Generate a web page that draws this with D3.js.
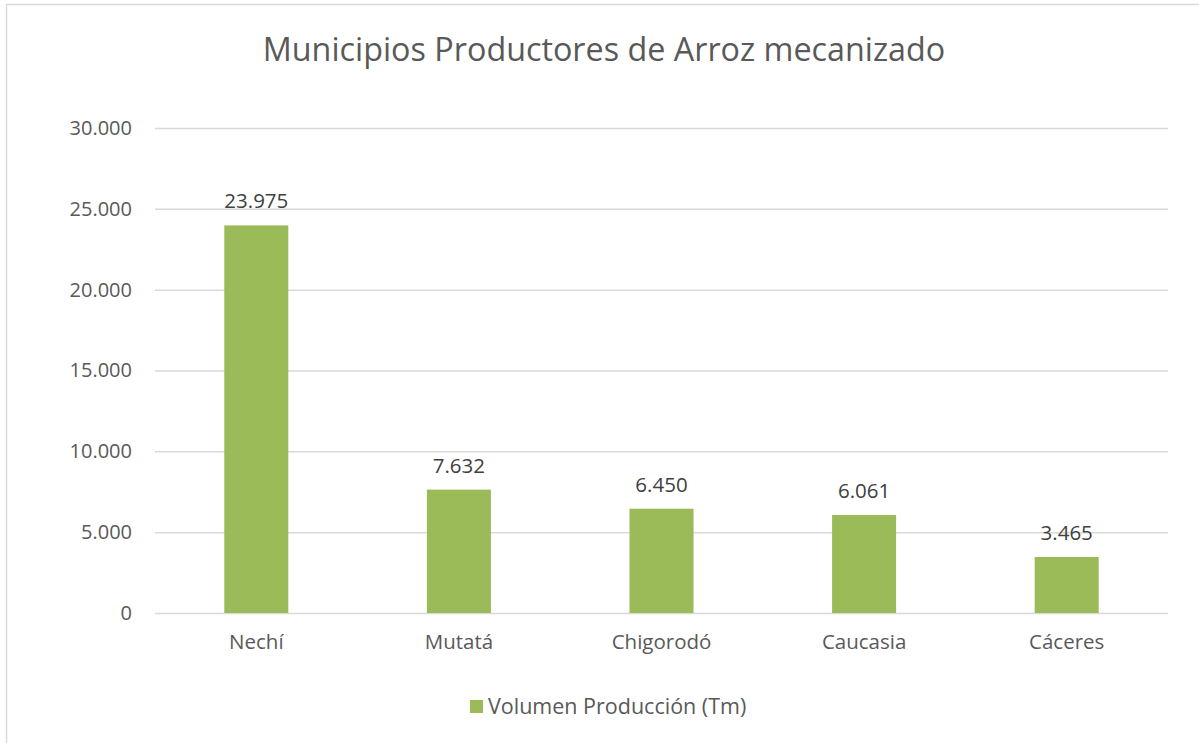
<!DOCTYPE html>
<html><head><meta charset="utf-8">
<script src="https://cdn.jsdelivr.net/npm/d3@7"></script>
<style>body{margin:0;background:#fff}svg{display:block}</style>
</head><body>
<script>
const categories = ["Nechí","Mutatá","Chigorodó","Caucasia","Cáceres"];
const values = [23975,7632,6450,6061,3465];
const yTicks = [0,5000,10000,15000,20000,25000,30000];
const title = "Municipios Productores de Arroz mecanizado";
const seriesName = "Volumen Producción (Tm)";

const W=1199,H=743;
const font='"Open Sans", "Noto Sans", sans-serif';
const txt='#595959';
const barColor='#9BBB59';
const svg=d3.select("body").append("svg").attr("width",W).attr("height",H);
svg.append("rect").attr("x",0).attr("y",0).attr("width",W).attr("height",H).attr("fill","#fff");
svg.append("path").attr("d",`M6.5,${H}V4.5H${W}`).attr("fill","none").attr("stroke","#d9d9d9").attr("stroke-width",1.5);

const m={l:155,r:1168,t:128,b:613};
const x=d3.scaleBand().domain(categories).range([m.l,m.r]).paddingInner(0.684).paddingOuter(0.342);
const y=d3.scaleLinear().domain([0,30000]).range([m.b,m.t]);
const fmt=v=>d3.format(",")(v).replace(/,/g,".");

svg.append("text").attr("x",604).attr("y",61).attr("text-anchor","middle")
 .attr("font-family",font).attr("font-size",32.3).attr("fill",txt).text(title);

const ya=svg.append("g").attr("transform",`translate(${m.l},0)`)
 .call(d3.axisLeft(y).tickValues(yTicks).tickSize(-(m.r-m.l)).tickPadding(23).tickFormat(fmt));
ya.select(".domain").remove();
ya.selectAll(".tick line").attr("stroke","#d9d9d9").attr("stroke-width",1.5);
ya.selectAll(".tick text").attr("font-family",font).attr("font-size",20).attr("fill",txt);

svg.selectAll("rect.bar").data(values).enter().append("rect").attr("class","bar")
 .attr("x",(d,i)=>x(categories[i])).attr("width",x.bandwidth())
 .attr("y",d=>y(d)).attr("height",d=>y(0)-y(d)).attr("fill",barColor);

svg.selectAll("text.lbl").data(values).enter().append("text").attr("class","lbl")
 .attr("x",(d,i)=>x(categories[i])+x.bandwidth()/2).attr("y",d=>y(d)-17)
 .attr("text-anchor","middle").attr("font-family",font).attr("font-size",20.5).attr("fill","#404040").text(fmt);

const xa=svg.append("g").attr("transform",`translate(0,${m.b})`)
 .call(d3.axisBottom(x).tickSize(0).tickPadding(21));
xa.select(".domain").remove();
xa.selectAll(".tick text").attr("font-family",font).attr("font-size",20.5).attr("fill",txt);

const lg=svg.append("g");
lg.append("rect").attr("x",470).attr("y",700).attr("width",13).attr("height",13).attr("fill",barColor);
lg.append("text").attr("x",488).attr("y",714).attr("font-family",font).attr("font-size",21.5).attr("fill",txt).text(seriesName);
</script>
</body></html>
